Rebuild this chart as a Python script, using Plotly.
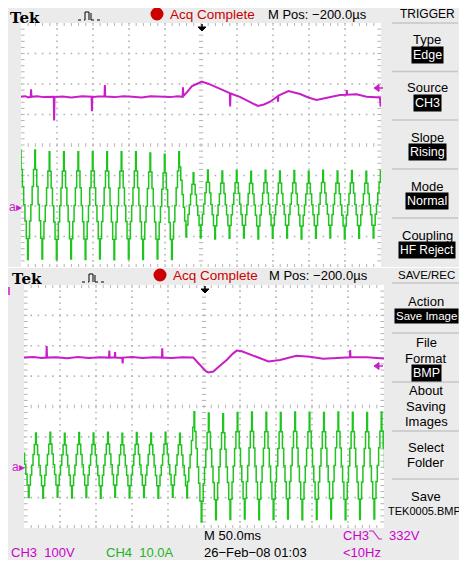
import plotly.graph_objects as go

# the page body adds an 8 px margin, so the figure starts at (8, 8) of the window
OFF = 8
W, H = 467 - OFF, 563 - OFF

# ---------------- data (in screen divisions: x 0..10, y -4..4) ----------------
PERIOD = 0.4  # one mains cycle = 0.4 div (20 ms at 50 ms/div)

# one cycle of the stepped CH4 current
step_phase = [-0.02, 0.03, 0.12, 0.21, 0.30, 0.39, 0.48, 0.53, 0.62, 0.71, 0.80, 0.89]
step_level = [-1.0, -0.62, -0.30, 0.0, 0.33, 0.64, 1.0, 0.64, 0.33, 0.0, -0.30, -0.62]

# upper capture, CH4 current: first trough position, per-cycle peaks and troughs
top_start = -0.21
top_peaks = [-0.16, -0.16, -0.22, -0.22, -0.22, -0.22, -0.22, -0.22, -0.22, -0.26, -0.30, -0.22,
             -0.91, -0.82, -0.85, -0.84, -0.86, -0.83, -0.85, -0.84, -0.86, -0.83, -0.85, -0.84, -0.86, -0.83]
top_troughs = [-3.74, -3.75, -3.74, -3.76, -3.74, -3.75, -3.74, -3.76, -3.74, -3.75, -3.74, -3.75,
               -3.02, -3.05, -3.08, -3.06, -3.05, -3.08, -3.06, -3.05, -3.08, -3.06, -3.05, -3.08, -3.06, -3.05, -3.07]

# lower capture, CH4 current
bot_start = -0.27
bot_peaks = [-0.80, -0.87, -0.85, -0.88, -0.86, -0.87, -0.85, -0.88, -0.86, -0.87, -0.85, -0.88,
             -0.17, -0.21, -0.24, -0.20, -0.18, -0.19, -0.20, -0.18, -0.19, -0.20, -0.18, -0.19, -0.20, -0.18]
bot_troughs = [-3.00, -3.00, -3.02, -2.99, -3.01, -3.00, -3.02, -2.99, -3.01, -3.00, -3.02, -2.99, -3.01,
               -3.80, -3.73, -3.72, -3.70, -3.73, -3.72, -3.70, -3.73, -3.72, -3.70, -3.73, -3.72, -3.70, -3.72]

# upper capture, CH3 voltage
top_v_x = [0.00, 0.12, 0.20, 0.27, 0.28, 0.29, 0.45, 0.62, 0.91, 0.92, 0.93, 1.15, 1.40, 1.70, 1.96, 1.97,
           1.98, 2.15, 2.32, 2.33, 2.34, 2.60, 2.85, 3.10, 3.35, 3.60, 3.90, 4.15, 4.35, 4.49, 4.50, 4.51,
           4.60, 4.75, 4.88, 5.02, 5.20, 5.44, 5.60, 5.80, 5.81, 5.82, 6.08, 6.35, 6.58, 6.75, 6.92, 7.13,
           7.14, 7.15, 7.43, 7.75, 8.00, 8.21, 8.50, 8.86, 9.04, 9.05, 9.06, 9.32, 9.60, 9.97, 9.99, 10.0]
top_v_y = [1.58, 1.60, 1.56, 1.58, 1.83, 1.58, 1.60, 1.57, 1.58, 0.80, 1.57, 1.59, 1.56, 1.60, 1.58, 1.11,
           1.57, 1.59, 1.60, 1.97, 1.59, 1.57, 1.60, 1.58, 1.56, 1.60, 1.58, 1.57, 1.60, 1.58, 1.89, 1.60,
           1.72, 1.93, 2.00, 2.08, 2.01, 1.89, 1.80, 1.70, 1.26, 1.69, 1.58, 1.42, 1.28, 1.33, 1.42, 1.60,
           1.42, 1.62, 1.77, 1.67, 1.55, 1.48, 1.56, 1.64, 1.65, 1.80, 1.65, 1.66, 1.58, 1.56, 1.26, 1.56]

# lower capture, CH3 voltage
bot_v_x = [0.00, 0.25, 0.50, 0.62, 0.63, 0.64, 0.90, 1.20, 1.50, 1.80, 2.10, 2.36, 2.37, 2.38, 2.52, 2.53,
           2.54, 2.73, 2.74, 2.75, 3.00, 3.30, 3.60, 3.83, 3.84, 3.85, 4.10, 4.40, 4.70, 4.89, 5.05, 5.12,
           5.26, 5.45, 5.63, 5.81, 5.91, 6.05, 6.28, 6.55, 6.79, 7.11, 7.57, 7.94, 8.31, 8.70, 9.05, 9.06,
           9.07, 9.52, 9.97, 10.0]
bot_v_y = [1.61, 1.63, 1.60, 1.61, 1.99, 1.61, 1.62, 1.59, 1.63, 1.60, 1.62, 1.61, 1.84, 1.61, 1.62, 1.79,
           1.61, 1.60, 1.42, 1.61, 1.63, 1.60, 1.62, 1.61, 1.92, 1.61, 1.60, 1.62, 1.61, 1.37, 1.16, 1.12,
           1.15, 1.35, 1.53, 1.75, 1.84, 1.82, 1.72, 1.58, 1.48, 1.53, 1.67, 1.64, 1.57, 1.60, 1.62, 1.86,
           1.62, 1.62, 1.57, 1.58]

# ---------------- helpers (arguments are window pixels) ----------------
def px(x):
    return (x - OFF) / W

def py(y):
    return 1 - (y - OFF) / H

def build_current(start, peaks, troughs):
    xs, ys = [], []
    for k in range(len(peaks)):
        c0 = start + k * PERIOD
        for i, (ph, lv) in enumerate(zip(step_phase, step_level)):
            lo = troughs[k] if i <= 6 else troughs[k + 1]
            hi = peaks[k]
            xs.append(c0 + ph * PERIOD)
            ys.append(lo + (lv + 1) / 2 * (hi - lo))
    return xs, ys

GREEN = "#1fc41f"
MAGENTA = "#c81ec8"
GRID = "#b4b4b4"

fig = go.Figure()

def add_grid(xa, ya):
    gx, gy = [], []
    for yl in [-3, -2, -1, 1, 2, 3]:
        for k in range(51):
            gx.append(k / 5); gy.append(yl)
    for xl in [1, 2, 3, 4, 6, 7, 8, 9]:
        for k in range(41):
            gx.append(xl); gy.append(-4 + k / 5)
    fig.add_trace(go.Scatter(x=gx, y=gy, mode="markers", xaxis=xa, yaxis=ya,
                             marker=dict(symbol="square", size=1.6, color=GRID), hoverinfo="skip"))
    tx, ty = [], []
    for k in range(1, 50):
        x = k / 5
        tx += [x, x, None, x, x, None, x, x, None]
        ty += [4, 3.9, None, -4, -3.9, None, -0.06, 0.06, None]
    for k in range(1, 40):
        y = -4 + k / 5
        tx += [0, 0.1, None, 10, 9.9, None, 4.94, 5.06, None]
        ty += [y, y, None, y, y, None, y, y, None]
    fig.add_trace(go.Scatter(x=tx, y=ty, mode="lines", xaxis=xa, yaxis=ya,
                             line=dict(color=GRID, width=1), hoverinfo="skip"))

add_grid("x", "y")
add_grid("x2", "y2")

tx, ty = build_current(top_start, top_peaks, top_troughs)
fig.add_trace(go.Scatter(x=tx, y=ty, mode="lines", line=dict(color=GREEN, width=1.5, shape="hv"),
                         xaxis="x", yaxis="y", hoverinfo="skip"))
fig.add_trace(go.Scatter(x=top_v_x, y=top_v_y, mode="lines", line=dict(color=MAGENTA, width=2),
                         xaxis="x", yaxis="y", hoverinfo="skip"))
bx, by = build_current(bot_start, bot_peaks, bot_troughs)
fig.add_trace(go.Scatter(x=bx, y=by, mode="lines", line=dict(color=GREEN, width=1.5, shape="hv"),
                         xaxis="x2", yaxis="y2", hoverinfo="skip"))
fig.add_trace(go.Scatter(x=bot_v_x, y=bot_v_y, mode="lines", line=dict(color=MAGENTA, width=2),
                         xaxis="x2", yaxis="y2", hoverinfo="skip"))

ax = dict(range=[0, 10], showgrid=False, zeroline=False, showticklabels=False, ticks="",
          showline=False, fixedrange=True)
ay = dict(range=[-4, 4], showgrid=False, zeroline=False, showticklabels=False, ticks="",
          showline=False, fixedrange=True)

shapes = []
shapes.append(dict(type="rect", xref="paper", yref="paper", x0=px(8), x1=px(467), y0=py(267), y1=py(8),
                   fillcolor="#ebebeb", line=dict(width=0), layer="below"))
shapes.append(dict(type="rect", xref="paper", yref="paper", x0=px(8), x1=px(467), y0=py(560), y1=py(268),
                   fillcolor="#ebebeb", line=dict(width=0), layer="below"))
shapes.append(dict(type="rect", xref="paper", yref="paper", x0=px(21), x1=px(381), y0=py(267), y1=py(23),
                   fillcolor="white", line=dict(width=0), layer="below"))
shapes.append(dict(type="rect", xref="paper", yref="paper", x0=px(24), x1=px(384), y0=py(528), y1=py(285),
                   fillcolor="white", line=dict(width=0), layer="below"))

def seg(x0, y0, x1, y1, color="#c6c6c6", width=1.5, dash="solid"):
    shapes.append(dict(type="line", xref="paper", yref="paper", x0=px(x0), y0=py(y0), x1=px(x1), y1=py(y1),
                       line=dict(color=color, width=width, dash=dash)))

def path(points, color, fill=None, width=1):
    d = "M " + " L ".join(f"{px(a):.5f},{py(b):.5f}" for a, b in points)
    if fill:
        d += " Z"
    shapes.append(dict(type="path", xref="paper", yref="paper", path=d,
                       line=dict(color=color, width=width), fillcolor=fill))

# menu separators
for yy in [23, 71.5, 120, 169, 218]:
    seg(392, yy, 458, yy)
for yy in [283, 333, 382, 431, 479]:
    seg(392, yy, 460, yy)

# red acquisition dots
for cx, cy in [(157, 14), (160, 275)]:
    shapes.append(dict(type="circle", xref="paper", yref="paper", x0=px(cx - 6.5), x1=px(cx + 6.5),
                       y0=py(cy + 6.5), y1=py(cy - 6.5), fillcolor="#cc0000", line=dict(width=0)))

# trigger icon (pulse)
for ox, oy in [(0, 0), (4, 262)]:
    seg(78 + ox, 20 + oy, 85 + ox, 20 + oy, color="black", width=1, dash="dot")
    path([(85 + ox, 20 + oy), (85 + ox, 12 + oy), (89 + ox, 12 + oy), (89 + ox, 20 + oy)], "black")
    path([(91 + ox, 20 + oy), (91 + ox, 13 + oy)], "black")
    seg(91 + ox, 20 + oy, 103 + ox, 20 + oy, color="black", width=1, dash="dot")

# trigger position arrows
for cx, ty0 in [(202, 24), (205, 286)]:
    path([(cx, ty0), (cx, ty0 + 4)], "black", width=1.5)
    path([(cx - 4, ty0 + 3), (cx + 4, ty0 + 3), (cx, ty0 + 7)], "black", fill="black")

# trigger level arrows (magenta, right edge)
for ty_ in [88, 366]:
    path([(374, ty_), (379, ty_ - 3.5), (379, ty_ + 3.5)], MAGENTA, fill=MAGENTA)
    path([(379, ty_), (383, ty_)], MAGENTA, width=1.5)

# off-screen CH3 marker, lower capture
path([(9, 287), (9, 295)], MAGENTA, width=1.5)

# falling-slope glyph
path([(369, 531), (373, 531), (379, 539), (382, 539)], MAGENTA, width=1.2)

annotations = []

def txt(s, x, y, size=13, color="black", anchor="center", family="Liberation Sans", bg=None, pad=0):
    annotations.append(dict(text=s, x=px(x), y=py(y), xref="paper", yref="paper", showarrow=False,
                            xanchor=anchor, yanchor="middle",
                            font=dict(size=size, color=color, family=family),
                            bgcolor=bg, borderpad=pad))

def inv(s, x, y, size=12.5):
    txt(s, x, y, size=size, color="white", bg="black", pad=1)

# headers
for yoff, tekx, acqx, mposx in [(0, 9, 169, 267), (261, 11, 172, 268)]:
    txt("<b>Tek</b>", tekx, 17.5 + yoff, size=15, family="DejaVu Serif", anchor="left")
    txt("Acq Complete", acqx, 14 + yoff, size=13.5, color="#cc0000", anchor="left")
    txt("M Pos: −200.0µs", mposx, 14 + yoff, size=13, anchor="left")

# trigger menu
MX = 427
txt("TRIGGER", MX, 14, size=12)
txt("Type", MX, 40); inv("Edge", MX, 55)
txt("Source", MX, 88); inv("CH3", MX, 103)
txt("Slope", MX, 137); inv("Rising", MX, 152)
txt("Mode", MX, 186); inv("Normal", MX, 201)
txt("Coupling", MX, 235); inv("HF Reject", MX, 250, size=12)

# save menu
MX2 = 426
txt("SAVE/REC", MX2, 275, size=11.5)
txt("Action", MX2, 301); inv("Save Image", MX2, 316, size=11.5)
txt("File", MX2, 342); txt("Format", MX2, 358); inv("BMP", MX2, 373)
txt("About", MX2, 391); txt("Saving", MX2, 406); txt("Images", MX2, 421)
txt("Select", MX2, 447); txt("Folder", MX2, 462)
txt("Save", MX2, 496); txt("TEK0005.BMP", 424, 511, size=11)

# ground markers
txt("a▸", 8, 207, size=12, color=MAGENTA, anchor="left")
txt("a▸", 11, 467, size=12, color=MAGENTA, anchor="left")

# status bar
txt("M 50.0ms", 203, 535, anchor="left")
txt("CH3", 342, 535, color="#cc00cc", anchor="left")
txt("332V", 388, 535, color="#cc00cc", anchor="left")
txt("CH3  100V", 10, 552, color="#cc00cc", anchor="left")
txt("CH4  10.0A", 105, 552, color="#22b422", anchor="left")
txt("26−Feb−08 01:03", 203, 552, anchor="left")
txt("&lt;10Hz", 342, 552, color="#cc00cc", anchor="left")

fig.update_layout(
    width=W, height=H, margin=dict(l=0, r=0, t=0, b=0),
    paper_bgcolor="white", plot_bgcolor="rgba(0,0,0,0)", showlegend=False,
    xaxis=dict(domain=[px(21), px(381)], anchor="y", **ax),
    yaxis=dict(domain=[py(267), py(23)], anchor="x", **ay),
    xaxis2=dict(domain=[px(24), px(384)], anchor="y2", **ax),
    yaxis2=dict(domain=[py(528), py(285)], anchor="x2", **ay),
    shapes=shapes, annotations=annotations,
)

fig.write_html("out.html")
